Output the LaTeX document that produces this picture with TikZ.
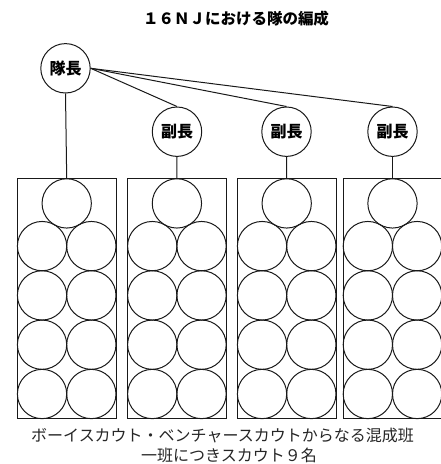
\documentclass[tikz,border=0pt]{standalone}
\usepackage{fontspec}
\setmainfont{Noto Sans CJK JP}
\begin{document}
\begin{tikzpicture}[x=1pt,y=-1pt,
  ln/.style={draw=black!90, line width=1pt},
  role/.style={ln, circle, minimum size=49.4pt, inner sep=0pt, font=\fontsize{16}{16}\selectfont\bfseries},
  member/.style={ln, circle, minimum size=49.3pt, inner sep=0pt},
  patrol/.style={ln, rectangle, minimum width=98.7pt, minimum height=239.8pt, inner sep=0pt},
  conn/.style={draw=black!90, line width=1pt}]
\useasboundingbox (0,0) rectangle (440,464);
\node[font=\fontsize{15.5}{16}\selectfont\bfseries] (title) at (236,19) {１６ＮＪにおける隊の編成};
\node[role] (tl) at (65.5,68.3) {隊長};
\node[role] (a1) at (177,131.7) {副長};
\node[role] (a2) at (286.5,131.7) {副長};
\node[role] (a3) at (392.5,131.7) {副長};
\foreach \i/\cx in {1/66.7,2/176.9,3/286.7,4/392.5}{
  \node[patrol] (p\i) at (\cx,298.8) {};
  \node[member] (p\i t) at (\cx,203.4) {};
  \foreach \j in {0,1,2,3}{
    \node[member] (p\i l\j) at (\cx-24.65,246.1+49.3*\j) {};
    \node[member] (p\i r\j) at (\cx+24.65,246.1+49.3*\j) {};
  }
}
\draw[conn] (tl.south) -- (p1.north);
\draw[conn] (tl.east) -- (a1.north);
\draw[conn] (tl.east) -- (a2.north);
\draw[conn] (tl.east) -- (a3.north);
\draw[conn] (a1.south) -- (p2.north);
\draw[conn] (a2.south) -- (p3.north);
\draw[conn] (a3.south) -- (p4.north);
\node[font=\fontsize{16}{16}\selectfont, text=black!85] (cap1) at (222.5,435.5) {ボーイスカウト・ベンチャースカウトからなる混成班};
\node[font=\fontsize{16}{16}\selectfont, text=black!85] (cap2) at (229,455) {一班につきスカウト９名};
\end{tikzpicture}
\end{document}
